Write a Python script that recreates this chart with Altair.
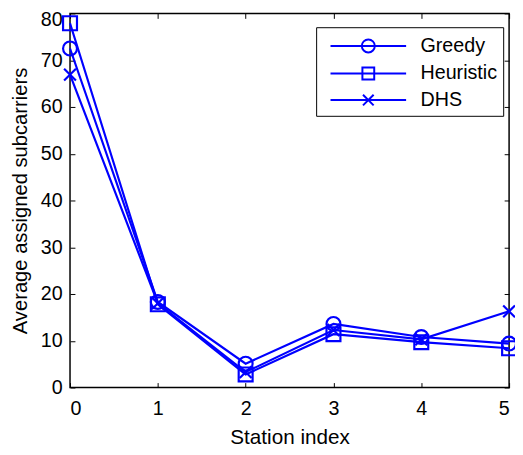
import altair as alt
import pandas as pd

stations = [0, 1, 2, 3, 4, 5]
greedy = [72.5, 18.3, 5.1, 13.6, 10.8, 9.4]
heuristic = [77.9, 17.8, 2.8, 11.4, 9.7, 8.4]
dhs = [66.9, 18.0, 3.3, 12.3, 10.3, 16.3]
series_names = ["Greedy", "Heuristic", "DHS"]
y_ticks = [0, 10, 20, 30, 40, 50, 60, 70, 80]

rows = []
for name, vals in zip(series_names, [greedy, heuristic, dhs]):
    for s, v in zip(stations, vals):
        rows.append({"station": s, "value": v, "series": name})
df = pd.DataFrame(rows)

BLUE = "#0000ff"
FONT = "Liberation Sans"
W, H = 446, 380

xs = alt.Scale(domain=[0, 5], nice=False)
ys = alt.Scale(domain=[0, 80], nice=False)

base = alt.Chart(df)

lines = base.mark_line(color=BLUE, strokeWidth=2.2).encode(
    x=alt.X("station:Q", scale=xs,
            axis=alt.Axis(title="Station index", values=stations, format="d",
                          ticks=False, tickSize=0, domain=False, grid=False,
                          labelPadding=11, labelFontSize=20, titleFontSize=21,
                          labelFont=FONT, titleFont=FONT, titleFontWeight="normal",
                          labelColor="black", titleColor="black", titlePadding=9)),
    y=alt.Y("value:Q", scale=ys,
            axis=alt.Axis(title="Average assigned subcarriers", values=y_ticks,
                          ticks=False, tickSize=0, domain=False, grid=False,
                          labelPadding=8, labelFontSize=20, titleFontSize=20.5,
                          labelFont=FONT, titleFont=FONT, titleFontWeight="normal",
                          labelColor="black", titleColor="black", titlePadding=10,
                          labelOffset={"condition": {"test": "datum.value === 80", "value": 6},
                                       "value": 0})),
    detail="series:N",
)

x_path = "M-0.85,-0.85L0.85,0.85M0.85,-0.85L-0.85,0.85"
points = base.mark_point(filled=False, color=BLUE, strokeWidth=2.2, size=200, opacity=1).encode(
    x=alt.X("station:Q", scale=xs, axis=None),
    y=alt.Y("value:Q", scale=ys, axis=None),
    shape=alt.Shape("series:N", sort=series_names,
                    scale=alt.Scale(domain=series_names, range=["circle", "square", x_path]),
                    legend=None),
)

tick_common = dict(labels=False, domain=False, grid=False, ticks=True, tickSize=5,
                   tickColor="black", tickWidth=1, title=None)
ticksA = base.mark_point(opacity=0).encode(
    x=alt.X("station:Q", scale=xs,
            axis=alt.Axis(orient="top", offset=-H, values=stations, **tick_common)),
    y=alt.Y("value:Q", scale=ys,
            axis=alt.Axis(orient="right", offset=-W, values=y_ticks, **tick_common)),
)
ticksB = base.mark_point(opacity=0).encode(
    x=alt.X("station:Q", scale=xs,
            axis=alt.Axis(orient="bottom", offset=-H, values=stations, **tick_common)),
    y=alt.Y("value:Q", scale=ys,
            axis=alt.Axis(orient="left", offset=-W, values=y_ticks, **tick_common)),
)

legend_paths = [
    "M-3.2,0L3.2,0M-0.55,0A0.55,0.55,0,1,1,0.55,0A0.55,0.55,0,1,1,-0.55,0",
    "M-3.2,0L3.2,0M-0.5,-0.5L0.5,-0.5L0.5,0.5L-0.5,0.5Z",
    "M-3.2,0L3.2,0M-0.45,-0.45L0.45,0.45M0.45,-0.45L-0.45,0.45",
]
legend_layer = base.mark_point(filled=False, color=BLUE, strokeWidth=2, opacity=0).encode(
    x=alt.X("station:Q", scale=xs, axis=None),
    y=alt.Y("value:Q", scale=ys, axis=None),
    shape=alt.Shape("series:N", sort=series_names,
                    scale=alt.Scale(domain=series_names, range=legend_paths),
                    legend=alt.Legend(title=None, orient="none", legendX=250, legendY=14,
                                      symbolSize=576, symbolStrokeWidth=2, symbolOpacity=1,
                                      symbolStrokeColor=BLUE, symbolFillColor="transparent",
                                      symbolOffset=34, labelOffset=40, padding=6, rowPadding=4,
                                      labelFont=FONT, labelFontSize=20, labelColor="black",
                                      fillColor="white", strokeColor="black",
                                      labelExpr="datum.label + '\u00a0\u00a0\u00a0'")),
)

chart = alt.layer(lines, points, ticksA, ticksB, legend_layer).resolve_scale(
    shape="independent"
).resolve_axis(
    x="independent", y="independent"
).properties(
    width=W, height=H,
    autosize=alt.AutoSizeParams(type="none"),
    padding={"left": 63, "top": 2, "right": 6, "bottom": 64},
    background="white",
).configure_view(
    stroke="black", strokeWidth=1.5
)

chart.save("out.html", embed_options={"renderer": "svg", "actions": False})
